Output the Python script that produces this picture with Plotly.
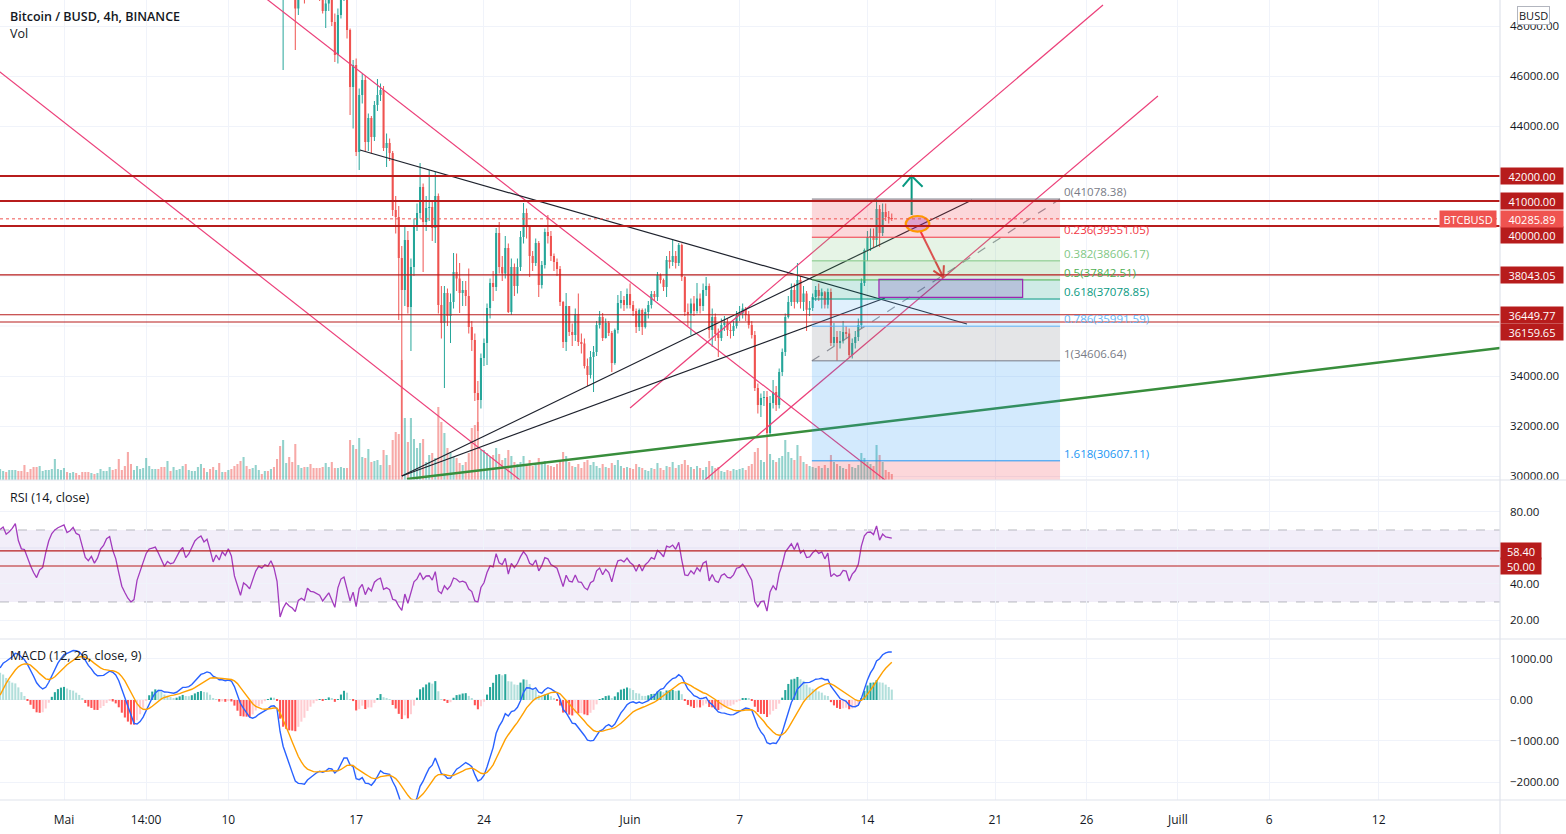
import pandas as pd
import numpy as np
import plotly.graph_objects as go

# ---------------- DATA ----------------
# 4h closes, BTC/BUSD, from 2021-04-20 00:00 to 2021-06-15 08:00 (first week = indicator warm-up)
closes = [
    55700, 56100, 55300, 55000, 56200, 56480,   # Apr 20
    56800, 56300, 55700, 55200, 54200, 53800,   # Apr 21
    54500, 55100, 54300, 53000, 51700, 51700,   # Apr 22
    50200, 49000, 49800, 50900, 51500, 51200,   # Apr 23
    50800, 50500, 50200, 50400, 49900, 50050,   # Apr 24
    49800, 49200, 48700, 48300, 48900, 49000,   # Apr 25
    50500, 51600, 52600, 53400, 53900, 54000,   # Apr 26
    54300, 54700, 54900, 55100, 55400, 55030,   # Apr 27
    55300, 55700, 56300, 55400, 54900, 54860,   # Apr 28
    54300, 53800, 53300, 52900, 53400, 53570,   # Apr 29
    54700, 55900, 56800, 57300, 57600, 57750,   # Apr 30
    58000, 57600, 57800, 58200, 57900, 57830,   # May 1
    57200, 56600, 56400, 56700, 56300, 56630,   # May 2
    57300, 57600, 58200, 58400, 57700, 57200,   # May 3
    56200, 55000, 54300, 53600, 53100, 53240,   # May 4
    54500, 55300, 56000, 56900, 57400, 57500,   # May 5
    57600, 57200, 56700, 56200, 56600, 56430,   # May 6
    56500, 56900, 57400, 57700, 57100, 57380,   # May 7
    57900, 58500, 58800, 59000, 58700, 58930,   # May 8
    58400, 57700, 58200, 57900, 58500, 58290,   # May 9
    58800, 58400, 57000, 56000, 55000, 55860,   # May 10
    55600, 55200, 55900, 56500, 56900, 56750,   # May 11
    57000, 56900, 57300, 56800, 55700, 49500,   # May 12
    50300, 50800, 50100, 49600, 48700, 49700,   # May 13
    49900, 49500, 50600, 50100, 50000, 49800,   # May 14
    49500, 48600, 48900, 49200, 48160, 46840,   # May 15
    48440, 49300, 49500, 47840, 45560, 46440,   # May 16
    42960, 45240, 45840, 43360, 44320, 43560,   # May 17
    44840, 45240, 45440, 43120, 43320, 42920,   # May 18
    40640, 40360, 38720, 37440, 39440, 36760,   # May 19
    38360, 40040, 40520, 41560, 40160, 40720,   # May 20
    40760, 39920, 41200, 36840, 36120, 37320,   # May 21
    36400, 36960, 38160, 37900, 37320, 37440,   # May 22
    37200, 35960, 35440, 33320, 33040, 34720,   # May 23
    35320, 36720, 37720, 37560, 39720, 38360,   # May 24
    38100, 39120, 36560, 38360, 37600, 38360,   # May 25
    39560, 40520, 39960, 38800, 38520, 39320,   # May 26
    37640, 38440, 39760, 39600, 38800, 38560,   # May 27
    38280, 36960, 35360, 36800, 35760, 35640,   # May 28
    36480, 35360, 35300, 34400, 34040, 34760,   # May 29
    34960, 36040, 36360, 35520, 36120, 35720,   # May 30
    34520, 35840, 36920, 37040, 36840, 37280,   # May 31
    36840, 36600, 35960, 36640, 35960, 36560,   # Jun 1
    36840, 37280, 37160, 38040, 37840, 37560,   # Jun 2
    38640, 38560, 38800, 38520, 39240, 37960,   # Jun 3
    36560, 36500, 36900, 36600, 37100, 36800,   # Jun 4
    37440, 37600, 35840, 36360, 35680, 35520,   # Jun 5
    36040, 36160, 35840, 35800, 36000, 36440,   # Jun 6
    36500, 36700, 36440, 36040, 35640, 33520,   # Jun 7
    32840, 33120, 33160, 31720, 32920, 33360,   # Jun 8
    32840, 34160, 34960, 36360, 36960, 37440,   # Jun 9
    36960, 37840, 36960, 37300, 36650, 36720,   # Jun 10
    37160, 37440, 37200, 37350, 36850, 37360,   # Jun 11
    35320, 35560, 35320, 35400, 35760, 35700,   # Jun 12
    34840, 35320, 35560, 36040, 37720, 39040,   # Jun 13
    39560, 39600, 39440, 40680, 39720, 40560,   # Jun 14
    40360, 40320, 40285.89,                     # Jun 15
]
first_close_time = "2021-04-20 00:00"

# highs / lows for the candles drawn (from 2021-05-12 00:00)
candle_start = "2021-05-12 00:00"
highs = [
    57500, 57400, 57800, 58000, 57000, 55800,
    51400, 51200, 51000, 50700, 49900, 50100,
    50500, 50300, 51500, 51100, 50600, 50400,
    50300, 49700, 49200, 49600, 49500, 48500,
    48700, 49600, 49800, 49700, 47900, 46640,
    46700, 45500, 46100, 46000, 44500, 44400,
    45000, 45880, 45700, 45600, 43700, 43500,
    43000, 41200, 40800, 39200, 40000, 39800,
    38700, 40300, 40900, 42520, 41700, 41200,
    42240, 41000, 42160, 41300, 37600, 37600,
    37500, 37300, 38920, 38900, 38520, 37800,
    37800, 38300, 36200, 35700, 33800, 34900,
    35500, 36900, 37900, 38200, 39920, 40160,
    38800, 39600, 39300, 38700, 38500, 38700,
    39800, 40920, 40700, 40000, 39000, 39500,
    39400, 38600, 39900, 40440, 39800, 38900,
    38700, 38400, 37000, 37320, 36800, 36100,
    36700, 37300, 35700, 35500, 34700, 35000,
    35200, 36200, 36600, 36520, 36300, 36200,
    35800, 35900, 37240, 37400, 37200, 37500,
    37700, 37000, 36700, 36700, 36700, 36700,
    37000, 37400, 37400, 38160, 38100, 37900,
    38800, 39000, 39480, 39000, 39320, 39300,
    38000, 36900, 37100, 37200, 37720, 37300,
    37700, 37960, 37700, 36700, 36500, 35900,
    36300, 36400, 36300, 36100, 36200, 36600,
    36800, 36900, 36760, 36600, 36200, 35800,
    33700, 33300, 33400, 33400, 33200, 33840,
    33600, 34300, 35100, 36500, 37200, 37700,
    37700, 38520, 38000, 37600, 37400, 37000,
    37300, 37600, 37700, 37500, 37400, 37500,
    37500, 36120, 35800, 35800, 36200, 36000,
    35900, 35500, 35800, 36300, 37900, 39100,
    39800, 39900, 39900, 41078.38, 40840, 40900,
    40900, 40600, 40500,
]
lows = [
    56300, 56200, 56600, 56500, 55300, 49200,
    46240, 49700, 49700, 49400, 47040, 48440,
    49300, 48900, 49300, 49800, 49500, 49300,
    49000, 48500, 47920, 48600, 48000, 46560,
    46500, 48300, 49000, 47500, 44440, 43900,
    42800, 42240, 44900, 43000, 43000, 42900,
    43400, 44600, 45000, 43000, 42360, 42600,
    40400, 39700, 36240, 30000, 36800, 36500,
    35000, 38000, 39800, 40300, 38160, 39800,
    40200, 39400, 39320, 36500, 35500, 33520,
    36000, 35320, 36700, 37400, 36520, 36800,
    36800, 35700, 35000, 33000, 31800, 32700,
    34400, 34440, 36300, 37000, 37400, 38100,
    37800, 37900, 36520, 36440, 37200, 37300,
    38200, 39300, 39500, 37960, 38200, 38400,
    37160, 37500, 38300, 39300, 38600, 38200,
    38000, 36800, 35120, 35000, 35600, 35200,
    35400, 35200, 34900, 34300, 33600, 33900,
    33360, 34800, 35900, 35400, 35500, 35600,
    34160, 34450, 35700, 36700, 36600, 36700,
    36700, 36400, 35720, 35800, 35640, 35900,
    36300, 36700, 37000, 37000, 37700, 37400,
    37160, 38300, 38400, 38300, 38400, 37800,
    36400, 36000, 35640, 36400, 36500, 36500,
    36600, 37200, 35500, 35160, 35400, 34760,
    35400, 35800, 35600, 35500, 35600, 35900,
    36200, 36300, 36200, 35900, 35500, 33400,
    32500, 32360, 32800, 31040, 31600, 32700,
    32600, 32700, 34000, 34800, 36300, 36800,
    36700, 36900, 36700, 36600, 35800, 36400,
    36600, 37000, 37000, 36700, 36700, 36700,
    35200, 35200, 34606.64, 35100, 35300, 35500,
    34750, 34700, 35100, 35400, 35900, 37600,
    38600, 39000, 39160, 39200, 39160, 39600,
    40200, 40100, 40200,
]

# volume (relative units) from 2021-04-27 12:00
volume_start = "2021-04-27 12:00"
volumes = [
    11, 9, 8, 10, 10, 10, 9, 9, 15, 8,
    11, 13, 13, 14, 9, 10, 10, 11, 21, 11,
    10, 12, 8, 7, 8, 7, 5, 8, 8, 8,
    7, 6, 7, 11, 9, 9, 13, 10, 11, 21,
    10, 14, 28, 16, 10, 14, 11, 12, 22, 14,
    11, 11, 11, 13, 13, 19, 9, 13, 10, 11,
    14, 16, 10, 9, 9, 13, 16, 12, 8, 11,
    13, 10, 17, 8, 8, 10, 11, 14, 16, 19,
    23, 14, 11, 12, 15, 10, 6, 9, 9, 11,
    13, 21, 34,
    40, 17, 23, 18, 36, 15, 12, 13, 13, 16, 12,
    12, 12, 13, 17, 13, 18, 12, 12, 13, 12, 12,
    40, 35, 31, 42, 23, 22, 31, 18, 19, 20,
    15, 30, 25, 15, 40, 48, 46, 120, 62, 38,
    62, 41, 32, 37, 41, 18, 25, 27, 22, 73,
    58, 47, 32, 27, 23, 22, 17, 15, 18, 27,
    52, 55, 58, 30,
    30, 27, 23, 25, 32, 26,   # May 24
    20, 22, 30, 24, 18, 16,
    18, 24, 16, 20, 14, 15,
    22, 17, 19, 15, 14, 13,
    16, 20, 28, 24, 18, 14,
    13, 16, 12, 18, 20, 15,
    18, 14, 12, 16, 13, 12,
    17, 15, 20, 14, 12, 13,
    12, 11, 16, 13, 12, 10,   # Jun 1
    9, 12, 11, 17, 12, 10,
    14, 13, 18, 12, 15, 16,
    20, 15, 13, 11, 14, 12,
    10, 13, 19, 14, 12, 13,
    9, 8, 10, 9, 11, 10,
    11, 12, 10, 14, 16, 28,
    32, 20, 18, 30, 26, 20,
    18, 22, 24, 40, 28, 22,
    20, 35, 24, 18, 16, 14,
    13, 12, 14, 12, 15, 12,
    25, 18, 16, 14, 12, 11,
    16, 13, 12, 15, 27, 22,
    18, 16, 14, 35, 25, 18,
    10, 8, 6,
]

x_tick_vals = ["2021-05-01", "2021-05-05 12:00", "2021-05-10", "2021-05-17", "2021-05-24",
               "2021-06-01", "2021-06-07", "2021-06-14", "2021-06-21", "2021-06-26",
               "2021-07-01", "2021-07-06", "2021-07-12"]
x_tick_text = ["Mai", "14:00", "10", "17", "24", "Juin", "7", "14", "21", "26", "Juill", "6", "12"]
x_view = ["2021-04-27 11:53", "2021-07-18 15:25"]

price_tick_labels = [30000, 32000, 34000, 44000, 46000, 48000]
price_grid_only = [36000, 38000, 40000, 42000]
price_levels_thick = [42000, 41000, 40000]
price_levels_thin = [38043.05, 36449.77, 36159.65]
last_price = 40285.89
rsi_levels = [58.40, 50.00]
rsi_tick_labels = [20, 40, 80]
rsi_grid_only = [60]
macd_ticks = [-2000, -1000, 0, 1000]

# Fibonacci retracement (levels as shown on the chart)
fib_t0, fib_t1 = "2021-06-10 23:00", "2021-06-24 13:10"
fib_ratios = ["0", "0.236", "0.382", "0.5", "0.618", "0.786", "1", "1.618", "2.618"]
fib_values = [41078.38, 39551.05, 38606.17, 37842.51, 37078.85, 35991.59, 34606.64, 30607.11, 24136.37]
fib_colors = ["#787b86", "#f23645", "#81c784", "#4caf50", "#089981", "#64b5f6", "#787b86", "#2196f3", "#f23645"]

# user drawings (time, price) anchors
pink_lines = [
    ("2021-04-25 00:00", 47590, "2021-05-25 23:20", 29840),
    ("2021-05-10 00:00", 50270, "2021-06-14 23:04", 29840),
    ("2021-06-01 00:00", 32720, "2021-06-26 21:36", 48840),
    ("2021-06-04 00:00", 29160, "2021-06-29 21:50", 45200),
]
black_lines = [
    ("2021-05-17 05:00", 43040, "2021-06-19 10:50", 36080),
    ("2021-05-19 12:00", 30000, "2021-06-19 17:30", 41040),
    ("2021-05-19 12:00", 30000, "2021-06-14 23:04", 37120),
]
green_line = ("2021-05-19 18:45", 29880, "2021-07-18 15:25", 35120)
purple_box = ("2021-06-14 15:10", 37148, "2021-06-22 12:00", 37868)
ellipse = ("2021-06-16 02:20", 39772, "2021-06-17 09:20", 40400)
teal_arrow_shaft = [("2021-06-16 10:05", 40440), ("2021-06-16 10:05", 42000)]
teal_arrow_head = [("2021-06-15 22:20", 41572), ("2021-06-16 10:05", 42000), ("2021-06-17 00:30", 41572)]
red_arrow_shaft = [("2021-06-16 22:00", 39772), ("2021-06-18 03:40", 37948)]
red_arrow_head = [("2021-06-17 14:40", 38214), ("2021-06-18 03:40", 37948), ("2021-06-18 04:30", 38428)]

# ---------------- derived series ----------------
t_all = pd.date_range(first_close_time, periods=len(closes), freq="4h")
s = pd.Series(closes, index=t_all, dtype=float)
opens = s.shift(1).fillna(s.iloc[0])

delta = s.diff().fillna(0)
avg_gain = delta.clip(lower=0).ewm(alpha=1/14, adjust=False).mean()
avg_loss = (-delta.clip(upper=0)).ewm(alpha=1/14, adjust=False).mean()
rsi = 100 - 100 / (1 + avg_gain / avg_loss)
ema12 = s.ewm(span=12, adjust=False).mean()
ema26 = s.ewm(span=26, adjust=False).mean()
macd = ema12 - ema26
signal = macd.ewm(span=9, adjust=False).mean()
hist = macd - signal

iv = t_all.get_loc(pd.Timestamp(volume_start))
ic = t_all.get_loc(pd.Timestamp(candle_start))
tv = t_all[iv:]
tc = t_all[ic:]

UP, DN = "#26a69a", "#ef5350"
c_c = s.iloc[ic:].values
o_c = opens.iloc[ic:].values
up_c = c_c >= o_c
body_base = np.minimum(o_c, c_c)
body_h = np.maximum(np.abs(c_c - o_c), 25)
candle_cols = [UP if u else DN for u in up_c]

vol_up = (s.iloc[iv:].values >= opens.iloc[iv:].values)
vol_cols = ["rgba(38,166,154,0.5)" if u else "rgba(239,83,80,0.5)" for u in vol_up]

h = hist.iloc[iv:]
hp = hist.shift(1).iloc[iv:]
hist_cols = []
for a, b in zip(h.values, hp.values):
    if a >= 0:
        hist_cols.append("#26a69a" if a > b else "#b2dfdb")
    else:
        hist_cols.append("#ff5252" if a < b else "#ffcdd2")

bar_w = 4 * 3600 * 1000 * 0.68

fig = go.Figure()
# volume on base axis (drawn below candles)
fig.add_trace(go.Bar(x=tv, y=volumes, width=bar_w, marker=dict(color=vol_cols, line_width=0),
                     xaxis="x", yaxis="y", hoverinfo="skip"))
# candle bodies
fig.add_trace(go.Bar(x=tc, y=body_h, base=body_base, width=bar_w,
                     marker=dict(color=candle_cols, line_width=0), xaxis="x", yaxis="y4", hoverinfo="skip"))
# wicks
for flag, col in ((True, UP), (False, DN)):
    wx, wy = [], []
    for t, hi, lo, u in zip(tc, highs, lows, up_c):
        if u == flag:
            wx += [t, t, None]
            wy += [lo, hi, None]
    fig.add_trace(go.Scatter(x=wx, y=wy, mode="lines", line=dict(color=col, width=1),
                             xaxis="x", yaxis="y4", hoverinfo="skip"))


def seg(pts, color, width, dash=None):
    fig.add_trace(go.Scatter(x=[p[0] for p in pts], y=[p[1] for p in pts], mode="lines",
                             line=dict(color=color, width=width, dash=dash),
                             xaxis="x", yaxis="y4", hoverinfo="skip"))


PINK = "#ec407a"
for a in pink_lines:
    seg([(a[0], a[1]), (a[2], a[3])], PINK, 1.2)
for a in black_lines:
    seg([(a[0], a[1]), (a[2], a[3])], "#1e222d", 1.2)
seg([(green_line[0], green_line[1]), (green_line[2], green_line[3])], "#388e3c", 2.5)
seg([(fib_t0, fib_values[6]), (fib_t1, fib_values[0])], "rgba(120,123,134,0.8)", 1.2, "dash")
seg(teal_arrow_shaft, "#089981", 2)
seg(teal_arrow_head, "#089981", 2)
seg(red_arrow_shaft, "#f23645", 2)
seg(red_arrow_head, "#f23645", 2)

# RSI
fig.add_trace(go.Scatter(x=tv, y=rsi.iloc[iv:], mode="lines", line=dict(color="#a23bbd", width=1.3),
                         xaxis="x", yaxis="y2", hoverinfo="skip"))
# MACD
fig.add_trace(go.Bar(x=tv, y=h.values, width=bar_w, marker=dict(color=hist_cols, line_width=0),
                     xaxis="x", yaxis="y3", hoverinfo="skip"))
fig.add_trace(go.Scatter(x=tv, y=macd.iloc[iv:], mode="lines", line=dict(color="#2962ff", width=1.4),
                         xaxis="x", yaxis="y3", hoverinfo="skip"))
fig.add_trace(go.Scatter(x=tv, y=signal.iloc[iv:], mode="lines", line=dict(color="#ffa000", width=1.4),
                         xaxis="x", yaxis="y3", hoverinfo="skip"))

# ---------------- shapes ----------------
GRID = "#f0f3fa"
shapes = []
for g in price_grid_only:
    shapes.append(dict(type="line", xref="paper", yref="y4", x0=0, x1=1, y0=g, y1=g,
                       line=dict(color=GRID, width=1), layer="below"))
for g in rsi_grid_only:
    shapes.append(dict(type="line", xref="paper", yref="y2", x0=0, x1=1, y0=g, y1=g,
                       line=dict(color=GRID, width=1), layer="below"))


def hexa(c, a):
    c = c.lstrip("#")
    return "rgba(%d,%d,%d,%s)" % (int(c[0:2], 16), int(c[2:4], 16), int(c[4:6], 16), a)


for i in range(1, len(fib_values)):
    shapes.append(dict(type="rect", xref="x", yref="y4", x0=fib_t0, x1=fib_t1,
                       y0=fib_values[i - 1], y1=fib_values[i], fillcolor=hexa(fib_colors[i], 0.2),
                       line_width=0, layer="above"))
for lv, col in zip(fib_values, fib_colors):
    shapes.append(dict(type="line", xref="x", yref="y4", x0=fib_t0, x1=fib_t1, y0=lv, y1=lv,
                       line=dict(color=col, width=1), layer="above"))

shapes.append(dict(type="rect", xref="x", yref="y4", x0=purple_box[0], x1=purple_box[2],
                   y0=purple_box[1], y1=purple_box[3], fillcolor="rgba(103,58,183,0.22)",
                   line=dict(color="#9c27b0", width=1.2), layer="above"))
shapes.append(dict(type="circle", xref="x", yref="y4", x0=ellipse[0], x1=ellipse[2],
                   y0=ellipse[1], y1=ellipse[3], fillcolor="rgba(156,39,176,0.3)",
                   line=dict(color="#ff9800", width=2.2), layer="above"))

for lv in price_levels_thick:
    shapes.append(dict(type="line", xref="paper", yref="y4", x0=0, x1=1, y0=lv, y1=lv,
                       line=dict(color="#b71c1c", width=2.2), layer="above"))
for lv in price_levels_thin:
    shapes.append(dict(type="line", xref="paper", yref="y4", x0=0, x1=1, y0=lv, y1=lv,
                       line=dict(color="#b71c1c", width=1.2), layer="above"))
shapes.append(dict(type="line", xref="paper", yref="y4", x0=0, x1=1, y0=last_price, y1=last_price,
                   line=dict(color="#ef5350", width=1, dash="dot"), layer="above"))

# RSI band
shapes.append(dict(type="rect", xref="paper", yref="y2", x0=0, x1=1, y0=30, y1=70,
                   fillcolor="rgba(126,87,194,0.1)", line_width=0, layer="below"))
for lv in (70, 30):
    shapes.append(dict(type="line", xref="paper", yref="y2", x0=0, x1=1, y0=lv, y1=lv,
                       line=dict(color="rgba(120,123,134,0.5)", width=1, dash="dash"), layer="below"))
for lv in rsi_levels:
    shapes.append(dict(type="line", xref="paper", yref="y2", x0=0, x1=1, y0=lv, y1=lv,
                       line=dict(color="#b71c1c", width=1.2), layer="above"))

# pane borders
BORDER = "#e0e3eb"
for yp in (0.4, 0.20125, 0.0):
    shapes.append(dict(type="line", xref="paper", yref="paper", x0=0, x1=1.044, y0=yp, y1=yp,
                       line=dict(color=BORDER, width=1.2), layer="above"))
shapes.append(dict(type="line", xref="paper", yref="paper", x0=1, x1=1, y0=-0.0425, y1=1,
                   line=dict(color=BORDER, width=1.2), layer="above"))

# ---------------- annotations ----------------
FONT = "Open Sans"
ann = []
ann.append(dict(xref="paper", yref="paper", x=0.0053, y=0.98, xanchor="left", yanchor="middle",
                text="Bitcoin / BUSD, 4h, BINANCE", showarrow=False,
                font=dict(family=FONT, size=12.5, color="#131722", weight=600)))
for txt, yp in (("Vol", 0.95875), ("RSI (14, close)", 0.37875), ("MACD (12, 26, close, 9)", 0.18125)):
    ann.append(dict(xref="paper", yref="paper", x=0.0053, y=yp, xanchor="left", yanchor="middle",
                    text=txt, showarrow=False, font=dict(family=FONT, size=12.5, color="#131722")))

for r, lv, col in zip(fib_ratios[:-1], fib_values[:-1], fib_colors[:-1]):
    ann.append(dict(xref="x", yref="y4", x=fib_t1, y=lv, xanchor="left", yanchor="bottom",
                    xshift=2, yshift=-2, text="%s(%.2f)" % (r, lv), showarrow=False,
                    font=dict(family=FONT, size=11.5, color=col)))


def axis_box(yref, val, text, bg, shift=0, w=58):
    ann.append(dict(xref="paper", yref=yref, x=1, y=val, xanchor="left", yanchor="middle",
                    yshift=shift, text=text, showarrow=False, bgcolor=bg, width=w, height=12,
                    borderpad=2, align="center", font=dict(family=FONT, size=11, color="white")))


label_shift = {40000: -9, 36159.65: -10}
for lv in price_levels_thick + price_levels_thin:
    axis_box("y4", lv, "%.2f" % lv, "#b71c1c", shift=label_shift.get(lv, 0))
axis_box("y4", last_price, "%.2f" % last_price, "#ef5350")
ann.append(dict(xref="paper", yref="y4", x=1, y=last_price, xanchor="right", yanchor="middle",
                xshift=-3, text="BTCBUSD", showarrow=False, bgcolor="#ef5350", width=52, height=12,
                borderpad=2, align="center", font=dict(family=FONT, size=11, color="white")))
for lv in rsi_levels:
    axis_box("y2", lv, "%.2f" % lv, "#b71c1c", w=36)
ann.append(dict(xref="paper", yref="paper", x=1.0113, y=0.981, xanchor="left", yanchor="middle",
                text="BUSD", showarrow=False, bgcolor="white", bordercolor="#b2b5be", borderwidth=1,
                borderpad=1, font=dict(family=FONT, size=11, color="#131722")))

axis_font = dict(family=FONT, size=11.5, color="#131722")
fig.update_layout(
    width=1566, height=834, margin=dict(l=0, r=66, t=0, b=34, autoexpand=False),
    paper_bgcolor="white", plot_bgcolor="white", showlegend=False, hovermode=False,
    barmode="overlay",
    xaxis=dict(type="date", range=x_view, tickvals=x_tick_vals, ticktext=x_tick_text,
               showgrid=True, gridcolor=GRID, zeroline=False, showline=False, anchor="y3",
               tickfont=dict(family=FONT, size=12, color="#131722"), ticks="", ticklabelstandoff=11),
    yaxis=dict(domain=[0.4, 1.0], range=[0, max(volumes) * 4.0], visible=False, anchor="x",
               showgrid=False, zeroline=False),
    yaxis4=dict(overlaying="y", side="right", anchor="x", range=[29840, 49040], tickvals=price_tick_labels,
                tickformat=".2f", showgrid=True, gridcolor=GRID, zeroline=False, showline=False,
                tickfont=axis_font, ticks="", ticklabelstandoff=9),
    yaxis2=dict(domain=[0.2025, 0.39875], side="right", anchor="x", range=[10, 97.2],
                tickvals=rsi_tick_labels, tickformat=".2f", showgrid=True, gridcolor=GRID,
                zeroline=False, tickfont=axis_font, ticks="", ticklabelstandoff=9),
    yaxis3=dict(domain=[0.0, 0.2], side="right", anchor="x", range=[-2439, 1463],
                tickvals=macd_ticks, tickformat=".2f", showgrid=True, gridcolor=GRID,
                zeroline=False, tickfont=axis_font, ticks="", ticklabelstandoff=9),
    shapes=shapes, annotations=ann,
)
fig.write_html("out.html", config={"displayModeBar": False},
               post_script="document.body.style.margin='0';document.body.style.padding='0';")
